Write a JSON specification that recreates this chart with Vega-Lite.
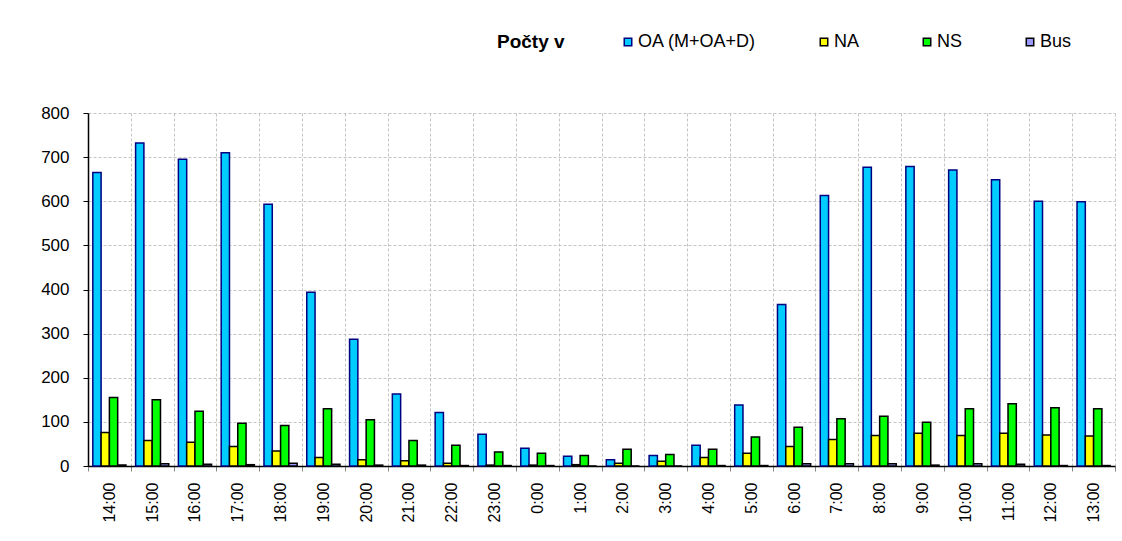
{
  "$schema": "https://vega.github.io/schema/vega-lite/v6.json",
  "width": 1027,
  "height": 353,
  "autosize": {"type": "none"},
  "padding": {"left": 88, "top": 113, "right": 7, "bottom": 75},
  "background": "white",
  "config": {
    "view": {"stroke": null},
    "font": "Liberation Sans"
  },
  "data": {
    "values": [
      {"hour": "14:00", "series": "OA (M+OA+D)", "count": 665}, {"hour": "14:00", "series": "NA", "count": 76}, {"hour": "14:00", "series": "NS", "count": 155}, {"hour": "14:00", "series": "Bus", "count": 2},
      {"hour": "15:00", "series": "OA (M+OA+D)", "count": 732}, {"hour": "15:00", "series": "NA", "count": 58}, {"hour": "15:00", "series": "NS", "count": 150}, {"hour": "15:00", "series": "Bus", "count": 5},
      {"hour": "16:00", "series": "OA (M+OA+D)", "count": 695}, {"hour": "16:00", "series": "NA", "count": 54}, {"hour": "16:00", "series": "NS", "count": 124}, {"hour": "16:00", "series": "Bus", "count": 4},
      {"hour": "17:00", "series": "OA (M+OA+D)", "count": 710}, {"hour": "17:00", "series": "NA", "count": 44}, {"hour": "17:00", "series": "NS", "count": 97}, {"hour": "17:00", "series": "Bus", "count": 3},
      {"hour": "18:00", "series": "OA (M+OA+D)", "count": 593}, {"hour": "18:00", "series": "NA", "count": 34}, {"hour": "18:00", "series": "NS", "count": 92}, {"hour": "18:00", "series": "Bus", "count": 6},
      {"hour": "19:00", "series": "OA (M+OA+D)", "count": 394}, {"hour": "19:00", "series": "NA", "count": 19}, {"hour": "19:00", "series": "NS", "count": 130}, {"hour": "19:00", "series": "Bus", "count": 4},
      {"hour": "20:00", "series": "OA (M+OA+D)", "count": 287}, {"hour": "20:00", "series": "NA", "count": 14}, {"hour": "20:00", "series": "NS", "count": 105}, {"hour": "20:00", "series": "Bus", "count": 2},
      {"hour": "21:00", "series": "OA (M+OA+D)", "count": 163}, {"hour": "21:00", "series": "NA", "count": 12}, {"hour": "21:00", "series": "NS", "count": 58}, {"hour": "21:00", "series": "Bus", "count": 2},
      {"hour": "22:00", "series": "OA (M+OA+D)", "count": 121}, {"hour": "22:00", "series": "NA", "count": 6}, {"hour": "22:00", "series": "NS", "count": 47}, {"hour": "22:00", "series": "Bus", "count": 1},
      {"hour": "23:00", "series": "OA (M+OA+D)", "count": 72}, {"hour": "23:00", "series": "NA", "count": 2}, {"hour": "23:00", "series": "NS", "count": 32}, {"hour": "23:00", "series": "Bus", "count": 1},
      {"hour": "0:00", "series": "OA (M+OA+D)", "count": 40}, {"hour": "0:00", "series": "NA", "count": 2}, {"hour": "0:00", "series": "NS", "count": 29}, {"hour": "0:00", "series": "Bus", "count": 1},
      {"hour": "1:00", "series": "OA (M+OA+D)", "count": 22}, {"hour": "1:00", "series": "NA", "count": 3}, {"hour": "1:00", "series": "NS", "count": 24}, {"hour": "1:00", "series": "Bus", "count": 0},
      {"hour": "2:00", "series": "OA (M+OA+D)", "count": 14}, {"hour": "2:00", "series": "NA", "count": 6}, {"hour": "2:00", "series": "NS", "count": 38}, {"hour": "2:00", "series": "Bus", "count": 0},
      {"hour": "3:00", "series": "OA (M+OA+D)", "count": 24}, {"hour": "3:00", "series": "NA", "count": 11}, {"hour": "3:00", "series": "NS", "count": 26}, {"hour": "3:00", "series": "Bus", "count": 0},
      {"hour": "4:00", "series": "OA (M+OA+D)", "count": 47}, {"hour": "4:00", "series": "NA", "count": 19}, {"hour": "4:00", "series": "NS", "count": 38}, {"hour": "4:00", "series": "Bus", "count": 1},
      {"hour": "5:00", "series": "OA (M+OA+D)", "count": 138}, {"hour": "5:00", "series": "NA", "count": 29}, {"hour": "5:00", "series": "NS", "count": 66}, {"hour": "5:00", "series": "Bus", "count": 1},
      {"hour": "6:00", "series": "OA (M+OA+D)", "count": 366}, {"hour": "6:00", "series": "NA", "count": 44}, {"hour": "6:00", "series": "NS", "count": 88}, {"hour": "6:00", "series": "Bus", "count": 5},
      {"hour": "7:00", "series": "OA (M+OA+D)", "count": 613}, {"hour": "7:00", "series": "NA", "count": 60}, {"hour": "7:00", "series": "NS", "count": 107}, {"hour": "7:00", "series": "Bus", "count": 5},
      {"hour": "8:00", "series": "OA (M+OA+D)", "count": 677}, {"hour": "8:00", "series": "NA", "count": 69}, {"hour": "8:00", "series": "NS", "count": 113}, {"hour": "8:00", "series": "Bus", "count": 5},
      {"hour": "9:00", "series": "OA (M+OA+D)", "count": 679}, {"hour": "9:00", "series": "NA", "count": 74}, {"hour": "9:00", "series": "NS", "count": 99}, {"hour": "9:00", "series": "Bus", "count": 2},
      {"hour": "10:00", "series": "OA (M+OA+D)", "count": 671}, {"hour": "10:00", "series": "NA", "count": 69}, {"hour": "10:00", "series": "NS", "count": 130}, {"hour": "10:00", "series": "Bus", "count": 5},
      {"hour": "11:00", "series": "OA (M+OA+D)", "count": 649}, {"hour": "11:00", "series": "NA", "count": 74}, {"hour": "11:00", "series": "NS", "count": 141}, {"hour": "11:00", "series": "Bus", "count": 4},
      {"hour": "12:00", "series": "OA (M+OA+D)", "count": 600}, {"hour": "12:00", "series": "NA", "count": 70}, {"hour": "12:00", "series": "NS", "count": 132}, {"hour": "12:00", "series": "Bus", "count": 1},
      {"hour": "13:00", "series": "OA (M+OA+D)", "count": 599}, {"hour": "13:00", "series": "NA", "count": 68}, {"hour": "13:00", "series": "NS", "count": 130}, {"hour": "13:00", "series": "Bus", "count": 1}
    ]
  },
  "mark": {"type": "bar", "strokeWidth": 1.5},
  "encoding": {
    "x": {
      "field": "hour",
      "type": "nominal",
      "sort": ["14:00", "15:00", "16:00", "17:00", "18:00", "19:00", "20:00", "21:00", "22:00", "23:00", "0:00", "1:00", "2:00", "3:00", "4:00", "5:00", "6:00", "7:00", "8:00", "9:00", "10:00", "11:00", "12:00", "13:00"],
      "scale": {"paddingInner": 0, "paddingOuter": 0},
      "axis": {
        "title": null,
        "tickBand": "extent",
        "grid": true,
        "gridColor": "#c4c4c4",
        "gridDash": [3, 2],
        "gridWidth": 1,
        "domainColor": "black",
        "domainWidth": 1.5,
        "tickColor": "#888888",
        "tickSize": 5,
        "labelAngle": -90,
        "labelAlign": "right",
        "labelBaseline": "middle",
        "labelFontSize": 16,
        "labelColor": "black",
        "labelPadding": 11
      }
    },
    "xOffset": {
      "field": "series",
      "type": "nominal",
      "scale": {"domain": ["OA (M+OA+D)", "NA", "NS", "Bus"], "paddingOuter": 0.58, "paddingInner": 0}
    },
    "y": {
      "field": "count",
      "type": "quantitative",
      "scale": {"domain": [0, 800], "nice": false},
      "axis": {
        "title": null,
        "values": [0, 100, 200, 300, 400, 500, 600, 700, 800],
        "grid": true,
        "gridColor": "#c4c4c4",
        "gridDash": [3, 2],
        "gridWidth": 1,
        "domainColor": "black",
        "domainWidth": 1.5,
        "tickColor": "black",
        "tickSize": 5,
        "labelFontSize": 17,
        "labelColor": "black",
        "labelPadding": 14
      }
    },
    "fill": {
      "field": "series",
      "type": "nominal",
      "title": "Počty v",
      "scale": {"domain": ["OA (M+OA+D)", "NA", "NS", "Bus"], "range": ["#00CCFF", "#FFFF00", "#00FF00", "#9999FF"]},
      "legend": {
        "orient": "none",
        "legendX": 409,
        "legendY": -80,
        "direction": "horizontal",
        "columns": 4,
        "titleOrient": "left",
        "titleFontSize": 19,
        "titleFontWeight": "bold",
        "titleColor": "black",
        "titlePadding": 54,
        "labelFontSize": 18,
        "labelColor": "black",
        "symbolType": "square",
        "symbolSize": 56,
        "symbolStrokeWidth": 1.5,
        "columnPadding": 58,
        "labelOffset": 1
      }
    },
    "stroke": {
      "field": "series",
      "type": "nominal",
      "title": "Počty v",
      "scale": {"domain": ["OA (M+OA+D)", "NA", "NS", "Bus"], "range": ["#000080", "#000000", "#000000", "#000000"]}
    }
  }
}
